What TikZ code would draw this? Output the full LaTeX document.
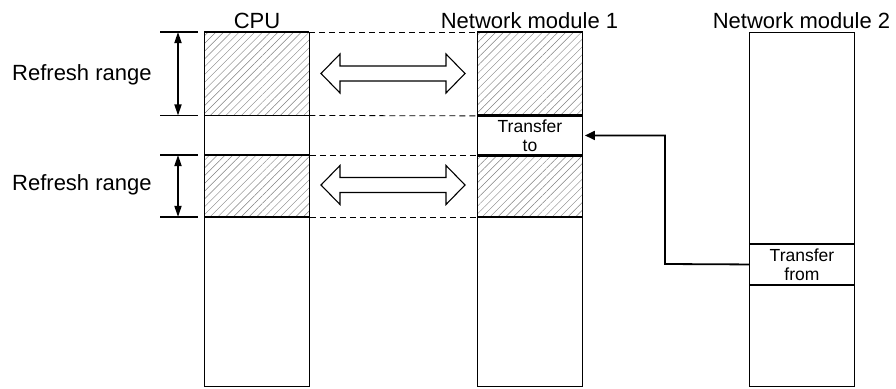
\documentclass[tikz,border=0pt]{standalone}
\usepackage{fontspec}
\setmainfont{Liberation Sans}
\usetikzlibrary{arrows.meta,patterns.meta,positioning,calc}
\definecolor{ink}{HTML}{000000}
\definecolor{hatch}{HTML}{808080}

\begin{document}
\begin{tikzpicture}[
      x=1pt, y=-1pt,
      memcol/.style={rectangle, draw=ink, line width=0.9pt, inner sep=0pt,
                     minimum width=105pt, anchor=north west},
      hatched/.style={pattern={Lines[angle=45, distance=5.5pt, line width=0.45pt]},
                      pattern color=hatch},
      slot/.style={memcol, align=center, font=\fontsize{17.5}{19}\selectfont},
      title/.style={font=\fontsize{22}{26}\selectfont, anchor=base},
      lbl/.style={font=\fontsize{22}{26}\selectfont, anchor=base west, inner sep=0pt},
      divider/.style={line width=1.6pt, color=ink},
      guide/.style={line width=0.8pt, dash pattern=on 6pt off 4pt},
      bracket/.style={line width=1.7pt},
      span/.style={{Triangle[length=11pt,width=7pt]}-{Triangle[length=11pt,width=7pt]}, line width=1.7pt},
      blockarr/.style={draw=ink, line width=1.1pt, fill=white, line join=miter},
      arr/.style={-{Triangle[length=10pt,width=9pt]}, line width=1.8pt, shorten >=2pt}
    ]
      \useasboundingbox (0,0) rectangle (896,388);
      % columns
      \node[memcol, minimum height=354pt] (cpu)   at (204,32) {};
      \node[memcol, minimum height=354pt] (nmone) at (477,32) {};
      \node[memcol, minimum height=354pt] (nmtwo) at (749,32) {};
      % refresh areas and transfer slots
      \node[memcol, hatched, minimum height=83pt] (cpuA) at (204,32) {};
      \node[memcol, hatched, minimum height=61pt] (cpuB) at (204,155) {};
      \node[memcol, hatched, minimum height=83pt] (nmA) at (477,32) {};
      \node[memcol, hatched, minimum height=61pt] (nmB) at (477,155) {};
      \node[slot, minimum height=40pt] (xto)   at (477,115) {Transfer\\to};
      \node[slot, minimum height=40pt] (xfrom) at (749,244) {Transfer\\from};
      % titles
      \node[title] (tcpu) at (257,28) {CPU};
      \node[title] (tone) at (529.5,28) {Network module 1};
      \node[title] (ttwo) at (801.5,28) {Network module 2};
      % dividers
      \foreach \n in {cpuA,cpuB,nmA,nmB}
        \draw[divider] (\n.north west) -- (\n.north east)
                       (\n.south west) -- (\n.south east);
      \foreach \n in {xto,xfrom}
        \draw[divider] (\n.north west) -- (\n.north east)
                       (\n.south west) -- (\n.south east);
      % dashed guides
      \foreach \a/\b in {cpuA/nmA,cpuB/nmB}{
        \draw[guide] (\a.north east) -- (\b.north west);
        \draw[guide] (\a.south east) -- (\b.south west);
      }
      % refresh range brackets
      \foreach \n in {cpuA,cpuB}{
        \draw[bracket] ($(\n.north west)+(-44,0)$) -- ($(\n.north west)+(-6,0)$);
        \draw[bracket] ($(\n.south west)+(-44,0)$) -- ($(\n.south west)+(-6,0)$);
        \draw[span] ($(\n.north west)+(-26,0)$) -- ($(\n.south west)+(-26,0)$);
      }
      \node[lbl] (rA) at (12,80) {Refresh range};
      \node[lbl] (rB) at (12,190) {Refresh range};
      % refresh block arrows
      \foreach \y in {73.5,185}
        \draw[blockarr] (321,\y) -- ++(19,-19.5) -- ++(0,12) -- ++(106,0) -- ++(0,-12)
          -- (465,\y) -- ++(-19,19.5) -- ++(0,-12) -- ++(-106,0) -- ++(0,12) -- cycle;
      % transfer
      \coordinate (bend) at (665,264);
      \draw[arr] (xfrom.west) -- (bend) |- (xto.east);
    \end{tikzpicture}
\end{document}
